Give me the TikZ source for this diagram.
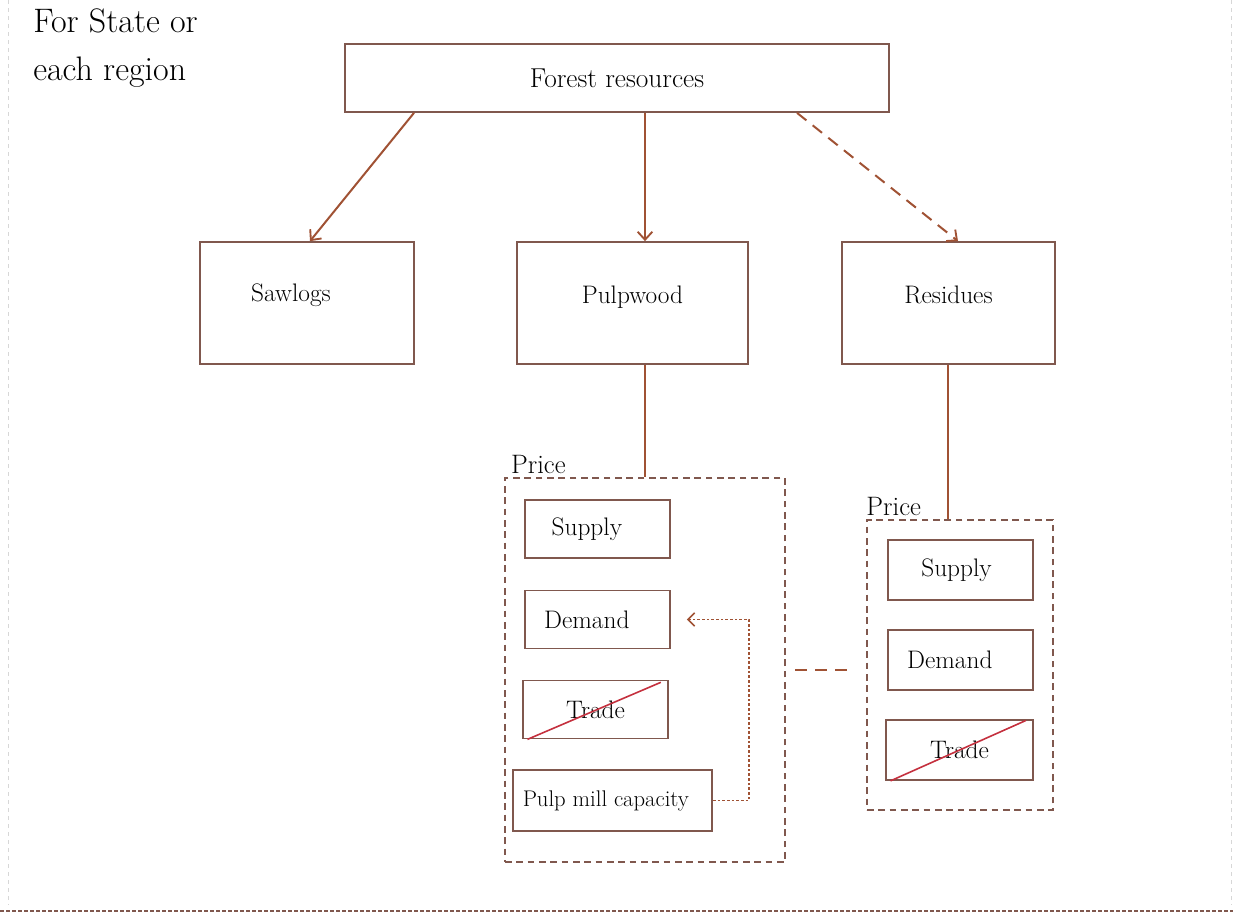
\documentclass[tikz,border=0pt]{standalone}
\usepackage{fontspec}
\usetikzlibrary{arrows.meta}
\definecolor{boxline}{RGB}{128,88,78}
\definecolor{arrowcol}{RGB}{160,82,52}
\definecolor{strike}{RGB}{196,48,62}
\definecolor{frame}{RGB}{215,215,215}
\tikzset{
  box/.style={draw=boxline, line width=1.3pt, minimum width=#1, font=\fontsize{19}{22}\selectfont},
  pricebox/.style={draw=boxline, line width=1.3pt, dashed, dash pattern=on 5pt off 3.5pt},
  conn/.style={draw=arrowcol, line width=1.5pt},
  arr/.style={conn, -{Straight Barb[length=6pt,width=11pt,line width=1.4pt]}},
  pricelabel/.style={font=\fontsize{20}{23}\selectfont, inner sep=1pt}
}
\begin{document}
\begin{tikzpicture}[x=0.75pt, y=-0.75pt]
  \useasboundingbox (0,0) rectangle (1233,914);
  % page frame
  \draw[frame, dashed, line width=0.6pt] (8,0) -- (8,905);
  \draw[frame, dashed, line width=0.6pt] (1231,0) -- (1231,905);
  \draw[boxline, dashed, dash pattern=on 3pt off 1.5pt, line width=1pt] (0,911) -- (1233,911);

  \node[anchor=north west, align=left, font=\fontsize{25.5}{36}\selectfont, inner sep=0pt] (title) at (33,8) {For State or\\each region};

  % top level
  \node[box=408pt, minimum height=51pt, font=\fontsize{20.5}{23}\selectfont] (forest) at (617,78) {Forest resources};
  \node[box=160.5pt, minimum height=91.5pt, text depth=16pt] (saw) at (307,303) {Sawlogs\hspace*{24pt}};
  \node[box=173.25pt, minimum height=91.5pt, text depth=12pt] (pulp) at (632.5,303) {Pulpwood};
  \node[box=159.75pt, minimum height=91.5pt, text depth=12pt] (res) at (948.5,303) {Residues};

  \coordinate (c1) at (414,0);
  \coordinate (c2) at (310,0);
  \coordinate (pcol) at (645,0);
  \coordinate (c3) at (797,0);
  \coordinate (c4) at (958,0);
  \coordinate (rcol) at (948,0);
  \draw[arr] (forest.south -| c1) -- (saw.north -| c2);
  \draw[arr] (forest.south -| pcol) -- (pulp.north -| pcol);
  \draw[arr, dashed, dash pattern=on 9pt off 6pt] (forest.south -| c3) -- (res.north -| c4);

  % price boxes
  \node[pricebox, minimum width=210pt, minimum height=288pt] (priceL) at (645,670) {};
  \node[pricebox, minimum width=139.5pt, minimum height=217.5pt] (priceR) at (960,665) {};
  \node[pricelabel, anchor=south west] (plabL) at ([xshift=4pt,yshift=1pt]priceL.north west) {Price};
  \node[pricelabel, anchor=south west] (plabR) at ([xshift=-1pt,yshift=1pt]priceR.north west) {Price};
  \draw[conn] (pulp.south -| pcol) -- (priceL.north -| pcol);
  \draw[conn] (res.south -| rcol) -- (priceR.north -| rcol);
  \draw[conn, dashed, dash pattern=on 9pt off 6pt, shorten <=7pt, shorten >=13pt] (priceL.east |- 0,670) -- (priceR.west |- 0,670);

  % left group
  \node[box=108.75pt, minimum height=43.5pt] (supL) at (597.5,529) {Supply\hspace*{16pt}};
  \node[box=108.75pt, minimum height=43.5pt] (demL) at (597.5,619.5) {Demand\hspace*{16pt}};
  \node[box=108.75pt, minimum height=43.5pt] (trdL) at (595.5,709.5) {Trade};
  \node[box=149.25pt, minimum height=45.75pt, font=\fontsize{17}{20}\selectfont] (mill) at (612.5,800.5) {Pulp mill capacity\hspace*{10pt}};
  \draw[strike, line width=1.2pt] ([xshift=4pt]trdL.south west) -- ([xshift=-6pt,yshift=-2pt]trdL.north east);
  \draw[arrowcol, line width=1.2pt, dash pattern=on 2pt off 1.5pt, -{Straight Barb[length=5pt,width=10pt,line width=1.2pt]}]
    (mill.east) -- ++(36,0) |- ([xshift=12pt]demL.east);

  % right group
  \node[box=108.75pt, minimum height=45pt] (supR) at (960.5,570) {Supply\hspace*{6pt}};
  \node[box=108.75pt, minimum height=45pt] (demR) at (960.5,660) {Demand\hspace*{16pt}};
  \node[box=110.25pt, minimum height=45pt] (trdR) at (959.5,750) {Trade};
  \draw[strike, line width=1.2pt] ([xshift=4pt]trdR.south west) -- ([xshift=-6pt,yshift=-1pt]trdR.north east);
\end{tikzpicture}
\end{document}
